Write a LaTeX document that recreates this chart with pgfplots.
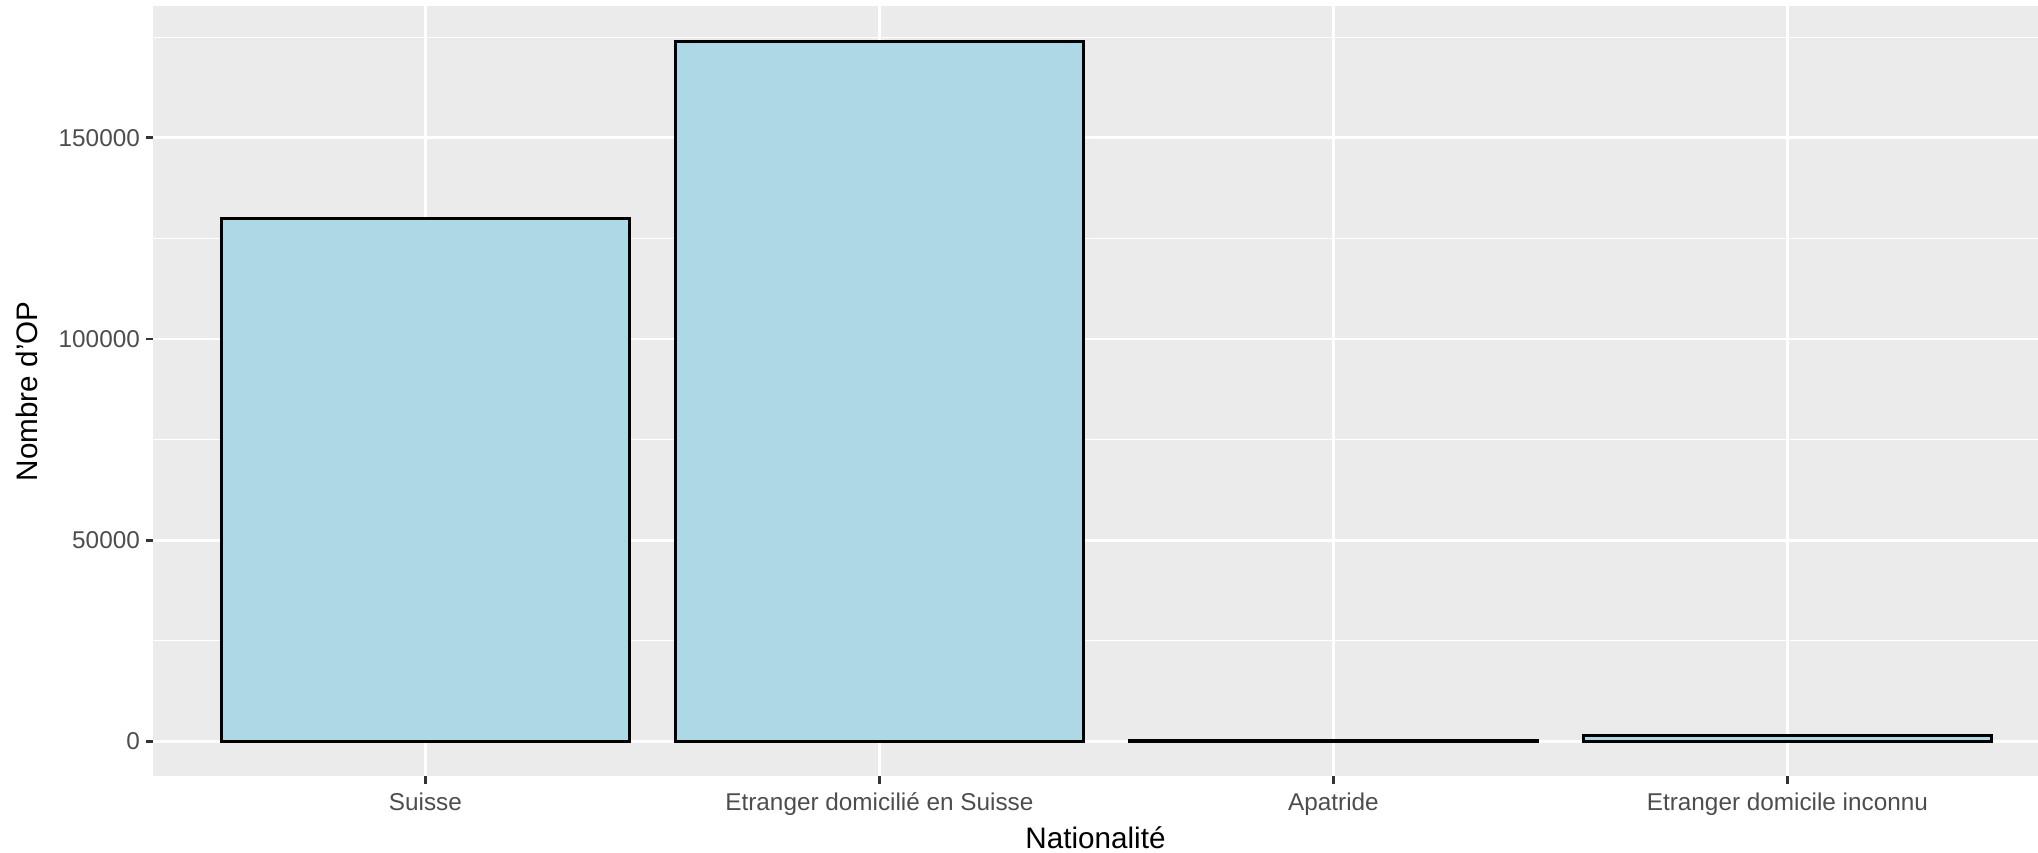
\documentclass[border=0pt]{standalone}
\usepackage{fontspec}
\setmainfont{Liberation Sans}
\usepackage{pgfplots}
\pgfplotsset{compat=1.18}
\definecolor{panel}{HTML}{EBEBEB}
\definecolor{barfill}{HTML}{ADD8E6}
\definecolor{tickcol}{HTML}{333333}
\definecolor{ticklab}{HTML}{4D4D4D}
\begin{document}
\begin{tikzpicture}
\path[use as bounding box] (-57.3pt,-28.4pt) rectangle (705.7pt,290.6pt);
\begin{axis}[
  at={(0,0)}, anchor=south west,
  scale only axis, width=705.7pt, height=288.2pt,
  xmin=-0.6, xmax=3.552, ymin=-8700, ymax=182700,
  ybar, bar width=0.9,
  axis background/.style={fill=panel},
  axis line style={draw=none},
  xtick={0,1,2,3},
  xticklabels={Suisse, Etranger domicilié en Suisse, Apatride, Etranger domicile inconnu},
  ytick={0,50000,100000,150000},
  yticklabels={0,50000,100000,150000},
  minor ytick={25000,75000,125000,175000},
  scaled y ticks=false,
  grid=both,
  major grid style={white, line width=1.07pt},
  minor grid style={white, line width=0.53pt},
  tick align=outside,
  xtick pos=bottom, ytick pos=left,
  major tick length=2.75pt, minor tick length=0pt,
  tick style={tickcol, line width=1.07pt},
  xticklabel style={font=\fontsize{9.1}{10}\selectfont, text=ticklab, anchor=base, inner sep=0pt, yshift=-10pt},
  yticklabel style={font=\fontsize{9.1}{10}\selectfont, text=ticklab, anchor=east, inner sep=0pt, xshift=-2pt},
  every axis x label/.style={at={(axis description cs:0.5,-0.0937)}, anchor=base, font=\fontsize{11.1}{13}\selectfont},
  every axis y label/.style={at={(axis description cs:-0.0667,0.5)}, rotate=90, anchor=center, font=\fontsize{11.1}{13}\selectfont},
  xlabel={Nationalité},
  ylabel={Nombre d'OP},
]
\addplot[fill=barfill, draw=black, line width=1.07pt] coordinates {(0,130000) (1,174000) (2,100) (3,1500)};
\end{axis}
\end{tikzpicture}
\end{document}
